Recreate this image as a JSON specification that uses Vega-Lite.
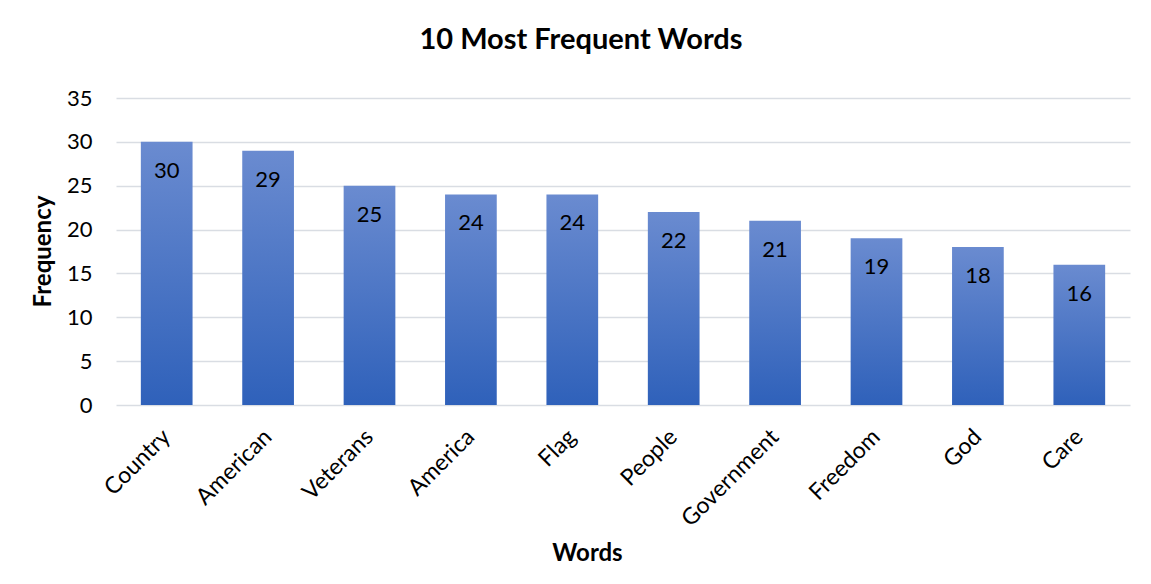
{
  "$schema": "https://vega.github.io/schema/vega-lite/v6.json",
  "autosize": "none",
  "width": 1014,
  "height": 307,
  "padding": {"left": 116, "top": 98, "right": 21, "bottom": 179},
  "background": "white",
  "config": {
    "font": "Lato",
    "view": {"stroke": null}
  },
  "title": {
    "text": "10 Most Frequent Words",
    "font": "Lato",
    "fontSize": 29,
    "fontWeight": "bold",
    "color": "#000000",
    "anchor": "middle",
    "frame": "group",
    "baseline": "alphabetic",
    "dx": -42,
    "offset": 9
  },
  "data": {
    "values": [
      {"word": "Country", "frequency": 30},
      {"word": "American", "frequency": 29},
      {"word": "Veterans", "frequency": 25},
      {"word": "America", "frequency": 24},
      {"word": "Flag", "frequency": 24},
      {"word": "People", "frequency": 22},
      {"word": "Government", "frequency": 21},
      {"word": "Freedom", "frequency": 19},
      {"word": "God", "frequency": 18},
      {"word": "Care", "frequency": 16}
    ]
  },
  "encoding": {
    "x": {
      "field": "word",
      "type": "nominal",
      "sort": null,
      "scale": {"paddingInner": 0.49, "paddingOuter": 0.245},
      "axis": {
        "title": "Words",
        "titleFont": "Lato",
        "titleFontSize": 24,
        "titleFontWeight": "bold",
        "titleColor": "#000000",
        "titleX": 471,
        "titleY": 155,
        "titleBaseline": "alphabetic",
        "titleAnchor": "start",
        "titleAlign": "center",
        "labelAngle": -45,
        "labelAlign": "right",
        "labelBaseline": "middle",
        "labelFont": "Lato",
        "labelFontSize": 23,
        "labelColor": "#000000",
        "labelPadding": 28,
        "ticks": false,
        "domain": false,
        "grid": false
      }
    },
    "y": {
      "field": "frequency",
      "type": "quantitative",
      "scale": {"domain": [0, 35]},
      "axis": {
        "title": "Frequency",
        "titleFont": "Lato",
        "titleFontSize": 24,
        "titleFontWeight": "bold",
        "titleColor": "#000000",
        "titleAngle": -90,
        "titleAlign": "center",
        "titleBaseline": "alphabetic",
        "titleX": -66,
        "titleY": 153,
        "values": [0, 5, 10, 15, 20, 25, 30, 35],
        "labelFont": "Lato",
        "labelFontSize": 22,
        "labelColor": "#000000",
        "labelPadding": 24,
        "ticks": false,
        "domain": false,
        "grid": true,
        "gridColor": "#d9dde3",
        "gridWidth": 1.5
      }
    }
  },
  "layer": [
    {
      "mark": {
        "type": "bar",
        "color": {
          "gradient": "linear",
          "x1": 0, "y1": 0, "x2": 0, "y2": 1,
          "stops": [
            {"offset": 0, "color": "#6a8bd0"},
            {"offset": 1, "color": "#2f61ba"}
          ]
        }
      }
    },
    {
      "mark": {
        "type": "text",
        "baseline": "middle",
        "align": "center",
        "dy": 29,
        "font": "Lato",
        "fontSize": 22,
        "color": "#000000"
      },
      "encoding": {
        "text": {"field": "frequency", "type": "quantitative"}
      }
    }
  ]
}
